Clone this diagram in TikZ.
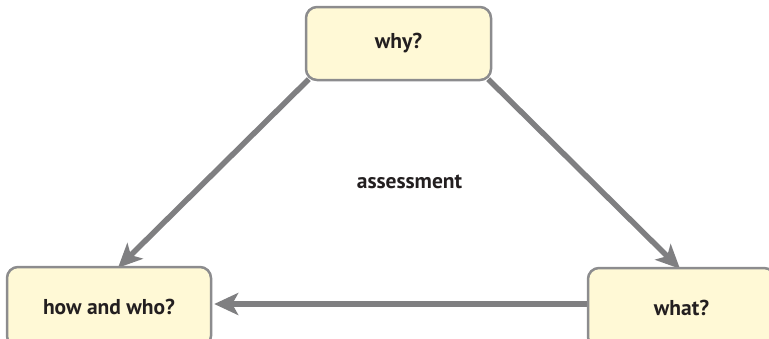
\documentclass[tikz,border=0pt]{standalone}
\usepackage{fontspec}
\setmainfont{PT Sans}
\usetikzlibrary{arrows.meta,calc}
\definecolor{boxfill}{HTML}{FFF9D6}
\definecolor{boxline}{HTML}{8C8C8E}
\definecolor{arrgray}{HTML}{7F7F81}
\definecolor{txt}{HTML}{231F20}
\tikzset{
  qbox/.style={draw=boxline, line width=2.5pt, fill=boxfill, rounded corners=11pt,
    inner sep=0pt, text=txt, font=\bfseries\fontsize{21.5}{24}\selectfont},
  arr/.style={draw=arrgray, line width=5.5pt,
    -{Stealth[length=24pt, width=22pt, inset=6pt]}},
  lbl/.style={text=txt, font=\bfseries\fontsize{21.5}{24}\selectfont, inner sep=0pt}
}
\begin{document}
\begin{tikzpicture}[x=1pt,y=-1pt]
\useasboundingbox (0,0) rectangle (769,338);
\clip (0,0) rectangle (769,338);
% node placeholders for positions
\path (398.5,43.5) node[minimum width=185pt, minimum height=73pt, inner sep=0pt] (whyp) {};
\path (109,307) node[minimum width=204pt, minimum height=80pt, inner sep=0pt] (howp) {};
\path (681.5,308) node[minimum width=187pt, minimum height=80pt, inner sep=0pt] (whatp) {};
% connectors
\draw[arr] ($(whyp.south west)+(3,-1)$) -- ($(howp.north)+(9,1)$);
\draw[arr] ($(whyp.south east)+(-3,-1)$) -- ($(whatp.north)+(-1.5,1)$);
\draw[arr] ($(whatp.west)+(0,-4)$) -- ($(howp.east)+(3,-3)$);
% boxes
\node[qbox, minimum width=185pt, minimum height=73pt] (why) at (398.5,43.5) {why?};
\node[qbox, minimum width=204pt, minimum height=80pt] (how) at (109,307) {how and who?};
\node[qbox, minimum width=187pt, minimum height=80pt] (what) at (681.5,308) {what?};
\node[lbl] (assess) at (409.5,182) {assessment};
\end{tikzpicture}
\end{document}
